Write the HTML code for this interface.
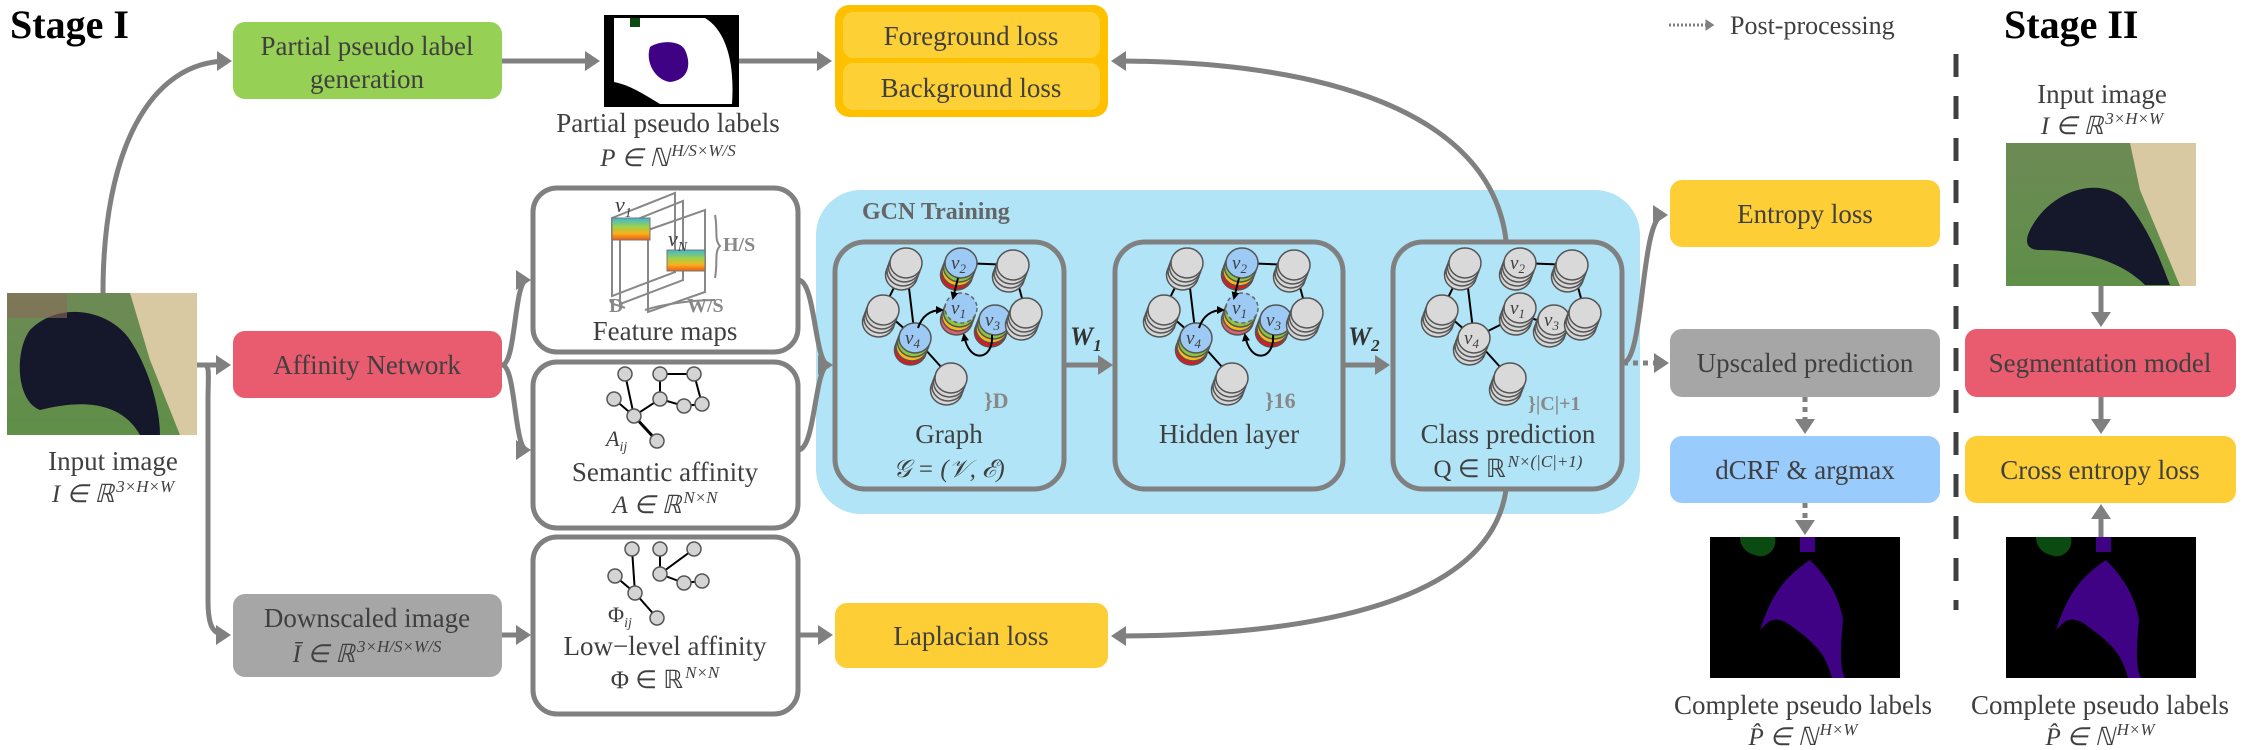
<!DOCTYPE html>
<html><head><meta charset="utf-8"><style>
html,body{margin:0;padding:0;background:#fff;}
svg{display:block;}
text{font-family:"Liberation Serif",serif;fill:#3f3f3f;}
.t{font-size:27px;text-anchor:middle;}
.m{font-size:25px;text-anchor:middle;font-style:italic;}
.sup{font-size:17px;}
.b{font-weight:bold;fill:#888;}
.sub{font-size:13px;}
</style></head><body>
<svg width="2248" height="750" viewBox="0 0 2248 750" xmlns="http://www.w3.org/2000/svg" font-family="Liberation Serif, serif">
<defs>
<marker id="ah" markerWidth="4" markerHeight="4" refX="2.2" refY="2" orient="auto" markerUnits="strokeWidth"><path d="M0,0 L3,2 L0,4 z" fill="#808080"/></marker>
<marker id="bh" markerWidth="10" markerHeight="10" refX="6" refY="4" orient="auto" markerUnits="userSpaceOnUse"><path d="M0,0 L8,4 L0,8 z" fill="#000"/></marker>
<linearGradient id="bar" x1="0" y1="0" x2="0" y2="1"><stop offset="0" stop-color="#3bb6d8"/><stop offset=".4" stop-color="#9fd24a"/><stop offset=".7" stop-color="#f7b21c"/><stop offset="1" stop-color="#f05a14"/></linearGradient>
<linearGradient id="grass" x1="0" y1="0" x2="0" y2="1"><stop offset="0" stop-color="#6d8a55"/><stop offset="1" stop-color="#5f8f48"/></linearGradient>
<g id="gs">
<ellipse cx="-4.5" cy="12" rx="16" ry="15" fill="#d6d6d6" stroke="#555" stroke-width="1.5"/>
<ellipse cx="-3" cy="8" rx="16" ry="15" fill="#d6d6d6" stroke="#555" stroke-width="1.5"/>
<ellipse cx="-1.5" cy="4" rx="16" ry="15" fill="#d6d6d6" stroke="#555" stroke-width="1.5"/>
<ellipse cx="0" cy="0" rx="16" ry="15" fill="#d9d9d9" stroke="#555" stroke-width="1.5"/>
</g>
<g id="cs">
<ellipse cx="-4.5" cy="12" rx="16" ry="15" fill="#e8141b" stroke="#555" stroke-width="1.5"/>
<ellipse cx="-3" cy="8" rx="16" ry="15" fill="#f6b81b" stroke="#555" stroke-width="1.5"/>
<ellipse cx="-1.5" cy="4" rx="16" ry="15" fill="#8cc63f" stroke="#555" stroke-width="1.5"/>
<ellipse cx="0" cy="0" rx="16" ry="15" fill="#9ccaf5" stroke="#555" stroke-width="1.5"/>
</g>
<g id="cs1">
<ellipse cx="-4.5" cy="12" rx="16" ry="15" fill="#e06070" stroke="#555" stroke-width="1.5"/>
<ellipse cx="-3" cy="8" rx="16" ry="15" fill="#f6b81b" stroke="#555" stroke-width="1.5"/>
<ellipse cx="-1.5" cy="4" rx="16" ry="15" fill="#8cc63f" stroke="#555" stroke-width="1.5"/>
<ellipse cx="0" cy="0" rx="16" ry="15" fill="#9ccaf5" stroke="#666" stroke-width="1.5" stroke-dasharray="4 3"/>
</g>
<g id="edges">
<path d="M72,23 L49,70 M72,23 L81,98 M49,70 L81,98 M81,98 L117,138 M127,23 L179,25 M179,25 L192,73" stroke="#000" stroke-width="2" fill="none"/>
</g>
<g id="arrows">
<path d="M84,88 C88,76 96,70 108,70" stroke="#000" stroke-width="2" fill="none" marker-end="url(#bh)"/>
<path d="M124,38 L119,58" stroke="#000" stroke-width="2" fill="none" marker-end="url(#bh)"/>
<path d="M158,95 C160,120 135,125 130,95" stroke="#000" stroke-width="2" fill="none" marker-end="url(#bh)"/>
</g>
<g id="vlab" style="font-size:19px;font-style:italic">
<text x="117" y="29">v<tspan class="sub" dy="4">2</tspan></text>
<text x="117" y="74">v<tspan class="sub" dy="4">1</tspan></text>
<text x="151" y="86">v<tspan class="sub" dy="4">3</tspan></text>
<text x="71" y="104">v<tspan class="sub" dy="4">4</tspan></text>
</g>
</defs>

<!-- Titles -->
<text x="10" y="38" style="font-size:40px;font-weight:bold;fill:#000">Stage I</text>
<text x="2004" y="38" style="font-size:40px;font-weight:bold;fill:#000">Stage II</text>
<path d="M1669,25 L1712,25" stroke="#808080" stroke-width="3" stroke-dasharray="2 2" marker-end="url(#ah)"/>
<text x="1730" y="34" style="font-size:26px">Post-processing</text>
<path d="M1956,54 L1956,610" stroke="#404040" stroke-width="5" stroke-dasharray="23 19"/>

<!-- GCN region -->
<rect x="816" y="190" width="824" height="324" rx="45" fill="#b0e4f6"/>
<text x="862" y="219" style="font-size:24px;font-weight:bold;fill:#666">GCN Training</text>

<!-- connectors -->
<g stroke="#808080" stroke-width="5" fill="none">
<path d="M103,293 C103,150 150,61 228,61" marker-end="url(#ah)"/>
<path d="M502,61 L596,61" marker-end="url(#ah)"/>
<path d="M739,61 L828,61" marker-end="url(#ah)"/>
<path d="M197,365 L227,365" marker-end="url(#ah)"/>
<path d="M205,365 C210,365 208,380 208,400 L208,600 C208,625 212,635 227,635" marker-end="url(#ah)"/>
<path d="M502,365 C516,365 514,280 527,280" marker-end="url(#ah)"/>
<path d="M502,365 C516,365 514,450 527,450" marker-end="url(#ah)"/>
<path d="M798,280 C816,280 814,365 829,365" marker-end="url(#ah)"/>
<path d="M798,450 C816,450 814,365 829,365"/>
<path d="M502,635 L527,635" marker-end="url(#ah)"/>
<path d="M798,635 L829,635" marker-end="url(#ah)"/>
<path d="M1065,365 L1109,365" marker-end="url(#ah)"/>
<path d="M1343,365 L1386,365" marker-end="url(#ah)"/>
<path d="M1506,240 C1490,110 1320,61 1115,61" marker-end="url(#ah)"/>
<path d="M1506,490 C1490,600 1320,636 1115,636" marker-end="url(#ah)"/>
<path d="M1623,363 C1645,360 1640,215 1664,215" marker-end="url(#ah)"/>
<path d="M1623,363 L1665,363" stroke-dasharray="5 5" marker-end="url(#ah)"/>
<path d="M1805,397 L1805,430" stroke-dasharray="5 5" marker-end="url(#ah)"/>
<path d="M1805,503 L1805,531" stroke-dasharray="5 5" marker-end="url(#ah)"/>
<path d="M2101,286 L2101,323" marker-end="url(#ah)"/>
<path d="M2101,397 L2101,430" marker-end="url(#ah)"/>
<path d="M2101,537 L2101,508" marker-end="url(#ah)"/>
</g>

<!-- Left boxes -->
<rect x="233" y="22" width="269" height="77" rx="12" fill="#96d155"/>
<text class="t" x="367" y="55">Partial pseudo label</text>
<text class="t" x="367" y="88">generation</text>
<rect x="233" y="331" width="269" height="67" rx="12" fill="#e95b6e"/>
<text class="t" x="367" y="374">Affinity Network</text>
<rect x="233" y="594" width="269" height="83" rx="12" fill="#a6a6a6"/>
<text class="t" x="367" y="627">Downscaled image</text>
<text class="m" x="367" y="662"><tspan>Ī ∈ ℝ</tspan><tspan class="sup" dx="2" dy="-10">3×H/S×W/S</tspan></text>

<!-- input image left -->
<rect x="7" y="293" width="190" height="142" fill="url(#grass)"/>
<path d="M130,293 L197,293 L197,435 L180,435 L150,360 Z" fill="#d8c9a3"/>
<path d="M30,330 C60,300 110,310 130,340 C150,370 160,410 160,435 L140,435 C120,400 80,400 40,410 C15,400 15,350 30,330 Z" fill="#15172a"/>
<rect x="7" y="293" width="60" height="25" fill="#8a6a5a" opacity=".6"/>
<text class="t" x="113" y="470">Input image</text>
<text class="m" x="113" y="502"><tspan>I ∈ ℝ</tspan><tspan class="sup" dx="2" dy="-10">3×H×W</tspan></text>

<!-- partial mask -->
<rect x="604" y="15" width="135" height="92" fill="#000"/>
<path d="M614,18 L705,18 C725,30 735,60 732,104 L660,104 C645,95 630,85 614,82 Z" fill="#fff"/>
<path d="M650,47 C660,40 680,40 685,50 C692,65 688,80 670,82 C655,80 645,62 650,47 Z" fill="#3f0284"/>
<rect x="630" y="18" width="10" height="9" fill="#0b4a10"/>
<text class="t" x="668" y="132">Partial pseudo labels</text>
<text class="m" x="668" y="166"><tspan>P ∈ ℕ</tspan><tspan class="sup" dx="2" dy="-10">H/S×W/S</tspan></text>

<!-- orange -->
<rect x="835" y="5" width="273" height="112" rx="14" fill="#ffc000"/>
<rect x="843" y="12" width="257" height="46" rx="10" fill="#fdd035"/>
<rect x="843" y="63" width="257" height="47" rx="10" fill="#fdd035"/>
<text class="t" x="971" y="45">Foreground loss</text>
<text class="t" x="971" y="97">Background loss</text>

<!-- feature/affinity boxes -->
<g fill="#fff" stroke="#808080" stroke-width="5">
<rect x="533" y="188" width="265" height="164" rx="24"/>
<rect x="533" y="362" width="265" height="166" rx="24"/>
<rect x="533" y="537" width="265" height="177" rx="24"/>
</g>
<!-- feature icon -->
<g stroke="#888" stroke-width="2" fill="none">
<path d="M612,218 L675,193 L675,272 L612,296 Z"/>
<path d="M620,226 L683,201 L683,280 L620,304 Z"/>
<path d="M648,230 L705,210 L705,292 L648,312 Z"/>
<path d="M610,300 C612,306 618,304 625,308" />
<path d="M645,310 C660,305 690,300 715,300"/>
<path d="M715,215 C718,230 714,240 720,246 C714,252 718,262 715,278"/>
</g>
<rect x="612" y="218" width="38" height="22" fill="url(#bar)" stroke="#777" stroke-width="1"/>
<rect x="667" y="250" width="38" height="21" fill="url(#bar)" stroke="#777" stroke-width="1"/>
<text x="615" y="212" style="font-size:22px;font-style:italic">v<tspan style="font-size:14px" dy="5">1</tspan></text>
<text x="668" y="246" style="font-size:22px;font-style:italic">v<tspan style="font-size:14px" dy="5">N</tspan></text>
<text x="723" y="251" class="b" style="font-size:20px">H/S</text>
<text x="609" y="312" class="b" style="font-size:20px">D</text>
<text x="687" y="312" class="b" style="font-size:20px">W/S</text>
<text class="t" x="665" y="340">Feature maps</text>

<!-- semantic graph -->
<g stroke="#000" stroke-width="2" fill="none">
<path d="M625,374 L634,416 M614,399 L634,416 L660,399 L660,374 L694,374 L702,404 M660,399 L684,406 L702,404"/>
<path d="M634,416 L657,441" stroke-width="3"/>
</g>
<g fill="#d4d4d4" stroke="#555" stroke-width="1.5">
<circle cx="625" cy="374" r="7"/><circle cx="660" cy="374" r="7"/><circle cx="694" cy="374" r="7"/>
<circle cx="614" cy="399" r="7"/><circle cx="660" cy="399" r="7"/><circle cx="684" cy="406" r="7"/>
<circle cx="702" cy="404" r="7"/><circle cx="634" cy="416" r="7"/><circle cx="657" cy="441" r="7"/>
</g>
<text x="606" y="446" style="font-size:22px;font-style:italic">A<tspan style="font-size:14px" dy="5">ij</tspan></text>
<text class="t" x="665" y="481">Semantic affinity</text>
<text class="m" x="665" y="513"><tspan>A ∈ ℝ</tspan><tspan class="sup" dx="2" dy="-10">N×N</tspan></text>

<!-- low level graph -->
<g stroke="#000" stroke-width="2" fill="none">
<path d="M632,549 L635,593 M615,576 L635,593 L657,618 M660,549 L660,574 M694,549 L660,574 L684,583 L702,581"/>
</g>
<g fill="#d4d4d4" stroke="#555" stroke-width="1.5">
<circle cx="632" cy="549" r="7"/><circle cx="660" cy="549" r="7"/><circle cx="694" cy="549" r="7"/>
<circle cx="615" cy="576" r="7"/><circle cx="660" cy="574" r="7"/><circle cx="684" cy="583" r="7"/>
<circle cx="702" cy="581" r="7"/><circle cx="635" cy="593" r="7"/><circle cx="657" cy="618" r="7"/>
</g>
<text x="608" y="622" style="font-size:22px">Φ<tspan style="font-size:14px;font-style:italic" dy="5">ij</tspan></text>
<text class="t" x="665" y="655">Low−level affinity</text>
<text class="m" x="665" y="688"><tspan style="font-style:normal">Φ ∈ ℝ</tspan><tspan class="sup" dx="2" dy="-10">N×N</tspan></text>

<!-- laplacian -->
<rect x="835" y="603" width="273" height="65" rx="12" fill="#fdce35"/>
<text class="t" x="971" y="645">Laplacian loss</text>

<!-- GCN boxes -->
<g fill="none" stroke="#808080" stroke-width="5">
<rect x="835" y="242" width="229" height="247" rx="30"/>
<rect x="1115" y="242" width="228" height="247" rx="30"/>
<rect x="1393" y="242" width="229" height="247" rx="30"/>
</g>
<text x="1070" y="345" style="font-size:26px;font-style:italic;font-weight:bold;fill:#333">W<tspan style="font-size:17px" dy="6">1</tspan></text>
<text x="1348" y="345" style="font-size:26px;font-style:italic;font-weight:bold;fill:#333">W<tspan style="font-size:17px" dy="6">2</tspan></text>

<!-- graph 1 -->
<g transform="translate(834,240)">
<use href="#edges"/>
<use href="#gs" x="72" y="23"/><use href="#cs" x="127" y="23"/><use href="#gs" x="179" y="25"/>
<use href="#gs" x="49" y="70"/><use href="#cs1" x="127" y="68"/><use href="#cs" x="161" y="80"/>
<use href="#gs" x="192" y="73"/><use href="#cs" x="81" y="98"/><use href="#gs" x="117" y="138"/>
<use href="#arrows"/>
<use href="#vlab"/>
<text x="150" y="168" class="b" style="font-size:22px">}D</text>
<text class="t" x="115" y="203">Graph</text>
<text class="m" x="115" y="237">𝒢 = (𝒱, ℰ)</text>
</g>
<!-- graph 2 -->
<g transform="translate(1115,240)">
<use href="#edges"/>
<use href="#gs" x="72" y="23"/><use href="#cs" x="127" y="23"/><use href="#gs" x="179" y="25"/>
<use href="#gs" x="49" y="70"/><use href="#cs1" x="127" y="68"/><use href="#cs" x="161" y="80"/>
<use href="#gs" x="192" y="73"/><use href="#cs" x="81" y="98"/><use href="#gs" x="117" y="138"/>
<use href="#arrows"/>
<use href="#vlab"/>
<text x="150" y="168" class="b" style="font-size:22px">}16</text>
<text class="t" x="114" y="203">Hidden layer</text>
</g>
<!-- graph 3 -->
<g transform="translate(1393,240)">
<use href="#edges"/>
<path d="M81,98 L127,75 M127,75 L161,85" stroke="#000" stroke-width="2"/>
<use href="#gs" x="72" y="23"/><use href="#gs" x="127" y="23"/><use href="#gs" x="179" y="25"/>
<use href="#gs" x="49" y="70"/><use href="#gs" x="127" y="68"/><use href="#gs" x="161" y="80"/>
<use href="#gs" x="192" y="73"/><use href="#gs" x="81" y="98"/><use href="#gs" x="117" y="138"/>
<use href="#vlab"/>
<text x="135" y="170" class="b" style="font-size:20px">}|C|+1</text>
<text class="t" x="115" y="203">Class prediction</text>
<text class="m" x="115" y="237"><tspan style="font-style:normal">Q ∈ ℝ</tspan><tspan class="sup" dx="2" dy="-10">N×(|C|+1)</tspan></text>
</g>

<!-- right column -->
<rect x="1670" y="180" width="270" height="67" rx="12" fill="#fdce35"/>
<text class="t" x="1805" y="223">Entropy loss</text>
<rect x="1670" y="329" width="270" height="68" rx="12" fill="#a6a6a6"/>
<text class="t" x="1805" y="372">Upscaled prediction</text>
<rect x="1670" y="436" width="270" height="67" rx="12" fill="#99cbfd"/>
<text class="t" x="1805" y="479">dCRF &amp; argmax</text>

<rect x="1965" y="329" width="271" height="68" rx="12" fill="#e95b6e"/>
<text class="t" x="2100" y="372">Segmentation model</text>
<rect x="1965" y="436" width="271" height="67" rx="12" fill="#fdce35"/>
<text class="t" x="2100" y="479">Cross entropy loss</text>

<text class="t" x="2102" y="103">Input image</text>
<text class="m" x="2102" y="134"><tspan>I ∈ ℝ</tspan><tspan class="sup" dx="2" dy="-10">3×H×W</tspan></text>
<rect x="2006" y="143" width="190" height="143" fill="url(#grass)"/>
<path d="M2130,143 L2196,143 L2196,286 L2180,286 L2140,190 Z" fill="#d8c9a3"/>
<path d="M2030,230 C2050,190 2100,175 2125,200 C2150,230 2160,260 2170,285 L2145,285 C2120,260 2080,250 2040,250 C2025,250 2025,240 2030,230 Z" fill="#15172a"/>

<!-- masks -->
<g>
<rect x="1710" y="537" width="190" height="141" fill="#000"/>
<path d="M1740,537 L1775,537 C1778,550 1765,560 1755,555 C1745,553 1740,545 1740,537 Z" fill="#0b4a10"/>
<path d="M1800,537 L1815,537 L1815,552 L1800,552 Z M1810,560 C1830,580 1840,600 1843,620 C1840,650 1840,670 1845,678 L1832,678 C1825,650 1810,640 1790,625 C1775,615 1770,620 1760,630 C1770,600 1780,580 1810,560 Z" fill="#3f0284"/>
</g>
<g>
<rect x="2006" y="537" width="190" height="141" fill="#000"/>
<path d="M2036,537 L2071,537 C2074,550 2061,560 2051,555 C2041,553 2036,545 2036,537 Z" fill="#0b4a10"/>
<path d="M2096,537 L2111,537 L2111,552 L2096,552 Z M2106,560 C2126,580 2136,600 2139,620 C2136,650 2136,670 2141,678 L2128,678 C2121,650 2106,640 2086,625 C2071,615 2066,620 2056,630 C2066,600 2076,580 2106,560 Z" fill="#3f0284"/>
</g>
<text class="t" x="1803" y="714">Complete pseudo labels</text>
<text class="m" x="1803" y="745"><tspan>P̂ ∈ ℕ</tspan><tspan class="sup" dx="2" dy="-10">H×W</tspan></text>
<text class="t" x="2100" y="714">Complete pseudo labels</text>
<text class="m" x="2100" y="745"><tspan>P̂ ∈ ℕ</tspan><tspan class="sup" dx="2" dy="-10">H×W</tspan></text>
</svg>
</body></html>
